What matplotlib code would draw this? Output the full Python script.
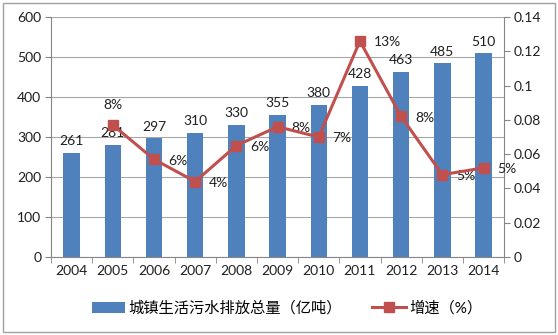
import matplotlib
matplotlib.use("Agg")
import matplotlib.pyplot as plt
from matplotlib.patches import Rectangle
from matplotlib.lines import Line2D
from matplotlib.patches import Patch

plt.rcParams['font.family'] = ['Lato', 'Noto Sans CJK SC', 'DejaVu Sans']

years = ["2004", "2005", "2006", "2007", "2008", "2009", "2010", "2011", "2012", "2013", "2014"]
volume = [261, 281, 297, 310, 330, 355, 380, 428, 463, 485, 510]
growth = [None, 0.077, 0.057, 0.044, 0.065, 0.076, 0.070, 0.126, 0.082, 0.048, 0.052]
growth_labels = ["", "8%", "6%", "4%", "6%", "8%", "7%", "13%", "8%", "5%", "5%"]

bar_color = "#4F81BD"
line_color = "#C0504D"
axis_color = "#868686"
text_color = "#1F1F1F"
fs = 10

fig = plt.figure(figsize=(5.58, 3.35), dpi=100)
ax = fig.add_axes([0.0914, 0.233, 0.812, 0.716])
ax2 = ax.twinx()

x = list(range(len(years)))
ax.bar(x, volume, width=0.4, color=bar_color, zorder=2)
for xi, v in zip(x, volume):
    ax.annotate(str(v), (xi, v), xytext=(0, 4), textcoords="offset points",
                ha="center", va="bottom", fontsize=fs, color=text_color, zorder=5)

ax.set_ylim(0, 600)
ax.set_yticks(range(0, 601, 100))
ax.set_xlim(-0.5, len(years) - 0.5)
ax.set_xticks(x)
ax.set_xticklabels(years)
ax.set_xticks([i - 0.5 for i in range(len(years) + 1)], minor=True)
ax.tick_params(axis="x", which="major", length=0, pad=6, labelsize=fs, labelcolor=text_color)
ax.tick_params(axis="x", which="minor", length=4, color=axis_color, direction="out")
ax.tick_params(axis="y", length=4, color=axis_color, labelsize=fs, labelcolor=text_color, pad=3)
ax.grid(axis="y", color="#A6A6A6", linewidth=0.8, zorder=0)
ax.set_axisbelow(True)
for side in ["top", "right"]:
    ax.spines[side].set_visible(False)
for side in ["left", "bottom"]:
    ax.spines[side].set_color(axis_color)

gx = [xi for xi, g in zip(x, growth) if g is not None]
gy = [g for g in growth if g is not None]
ax2.plot(gx, gy, color=line_color, linewidth=2.2, marker="s", markersize=7, zorder=4)
for xi, g, lab in zip(x, growth, growth_labels):
    if g is None:
        continue
    if xi == 1:
        ax2.annotate(lab, (xi, g), xytext=(0, 10), textcoords="offset points",
                     ha="center", va="bottom", fontsize=fs, color=text_color)
    else:
        ax2.annotate(lab, (xi, g), xytext=(10, -1), textcoords="offset points",
                     ha="left", va="center", fontsize=fs, color=text_color)

ax2.set_ylim(0, 0.14)
ax2.set_yticks([0, 0.02, 0.04, 0.06, 0.08, 0.1, 0.12, 0.14])
ax2.set_yticklabels(["0", "0.02", "0.04", "0.06", "0.08", "0.1", "0.12", "0.14"])
ax2.tick_params(axis="y", length=4, color=axis_color, labelsize=fs, labelcolor=text_color, pad=3)
for side in ["top", "left", "bottom"]:
    ax2.spines[side].set_visible(False)
ax2.spines["right"].set_color(axis_color)

handles = [Patch(facecolor=bar_color, edgecolor="none"),
           Line2D([0], [0], color=line_color, linewidth=2.2, marker="s", markersize=7)]
fig.legend(handles, ["城镇生活污水排放总量（亿吨）", "增速（%）"], loc="center",
           bbox_to_anchor=(0.514, 0.08), ncol=2, frameon=False, fontsize=11,
           handlelength=2.2, columnspacing=2.0, handletextpad=0.2)

fig.add_artist(Rectangle((0.006, 0.01), 0.988, 0.98, transform=fig.transFigure,
                         fill=False, edgecolor="#A0A0A0", linewidth=1))

fig.savefig("out.png", dpi=100)
